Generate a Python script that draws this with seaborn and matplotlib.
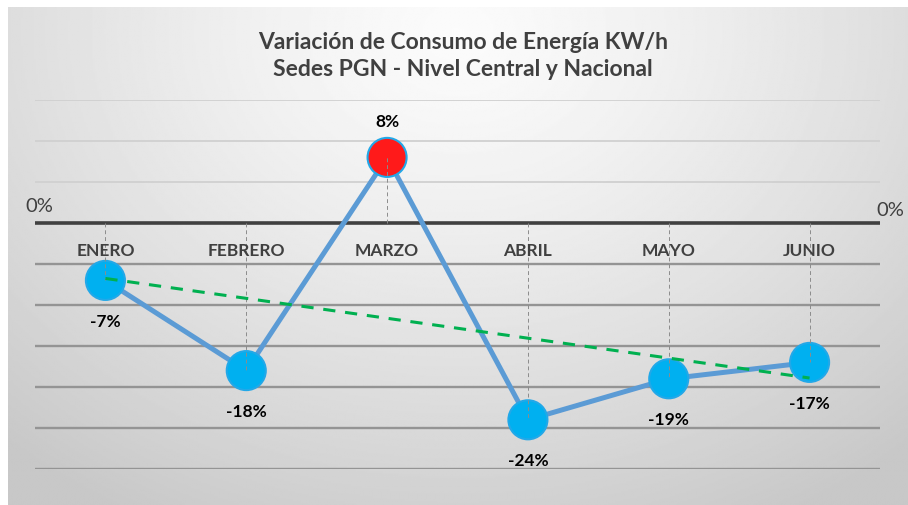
import numpy as np
import pandas as pd
import matplotlib
matplotlib.use("Agg")
import matplotlib.pyplot as plt
import seaborn as sns

# datos
meses = ["ENERO", "FEBRERO", "MARZO", "ABRIL", "MAYO", "JUNIO"]
variacion = [-7, -18, 8, -24, -19, -17]
etiquetas = ["-7%", "-18%", "8%", "-24%", "-19%", "-17%"]

titulo = "Variación de Consumo de Energía KW/h\nSedes PGN - Nivel Central y Nacional"

df = pd.DataFrame({"x": range(len(meses)), "mes": meses, "var": variacion,
                   "etiqueta": etiquetas})
df["tipo"] = np.where(df["var"] > 0, "sube", "baja")

sns.set_theme(style="white")
plt.rcParams["font.family"] = ["Lato", "DejaVu Sans"]

fig = plt.figure(figsize=(9.08, 5.06), dpi=100)
fig.patch.set_facecolor("white")

# fondo con degradado (panel gris claro)
bg = fig.add_axes([8 / 908, 0, 1 - 8 / 908, 1 - 8 / 506])
yy, xx = np.mgrid[0:1:300j, 0:1:500j]
dist = np.sqrt(((xx - 0.5) / 0.75) ** 2 + ((yy - 0.05) / 1.1) ** 2)
grad = 0.985 - 0.2 * np.clip(dist, 0, 1) ** 1.3
bg.imshow(grad, cmap="gray", vmin=0, vmax=1, aspect="auto",
          extent=[0, 1, 0, 1], origin="upper")
bg.axis("off")
bg.set_zorder(0)

ax = fig.add_axes([35 / 908, 1 - 470 / 506, 845 / 908, 369 / 506])
ax.set_zorder(1)
ax.patch.set_alpha(0)

# rejilla
for v in [5, 10, 15]:
    ax.axhline(v, color="#d0d0d0", lw=1.3, zorder=1)
for v in [-5, -10, -15, -20, -25, -30]:
    ax.axhline(v, color="#949494", lw=1.7, zorder=1)
ax.axhline(0, color="#404040", lw=2.6, zorder=2)

# línea principal
sns.lineplot(data=df, x="x", y="var", color="#5B9BD5", lw=3.6, ax=ax,
             zorder=3, legend=False)
sns.scatterplot(data=df, x="x", y="var", hue="tipo",
                palette={"baja": "#00B0F0", "sube": "#FF1A1A"},
                s=790, edgecolor="#22A8E8", linewidth=1.5, ax=ax, zorder=4,
                legend=False)

# líneas de caída
for i, v in zip(df["x"], df["var"]):
    ax.plot([i, i], [0, v], color="#8c8c8c", lw=0.7, ls=(0, (4, 3)), zorder=5)

# tendencia lineal
sns.regplot(data=df, x="x", y="var", scatter=False, ci=None, ax=ax,
            line_kws={"color": "#00B050", "lw": 2.2, "ls": (0, (4, 3.2)),
                      "zorder": 6})

# etiquetas de datos
for i, v, t in zip(df["x"], df["var"], df["etiqueta"]):
    off = 4.4 if v > 0 else -4.9
    ax.text(i, v + off, t, ha="center", va="center", fontsize=12.5,
            fontweight="bold", color="black", zorder=7)

# meses bajo la línea cero
for i, m in enumerate(meses):
    ax.text(i, -3.35, m, ha="center", va="center", fontsize=12.5,
            fontweight="bold", color="#404040", zorder=7)

ax.set_xlim(-0.5, 5.5)
ax.set_ylim(-30, 15)
ax.set_xticks([])
ax.set_yticks([])
ax.set_xlabel("")
ax.set_ylabel("")
for s in ax.spines.values():
    s.set_visible(False)

fig.text(39 / 908, 1 - 207 / 506, "0%", ha="center", va="center",
         fontsize=14.5, color="#404040")
fig.text(890 / 908, 1 - 210 / 506, "0%", ha="center", va="center",
         fontsize=14.5, color="#404040")

fig.text(463 / 908, 1 - 56 / 506, titulo, ha="center", va="center",
         fontsize=16.5, fontweight="bold", color="#404040", linespacing=1.4)

fig.savefig("out.png", dpi=100)
plt.close(fig)
